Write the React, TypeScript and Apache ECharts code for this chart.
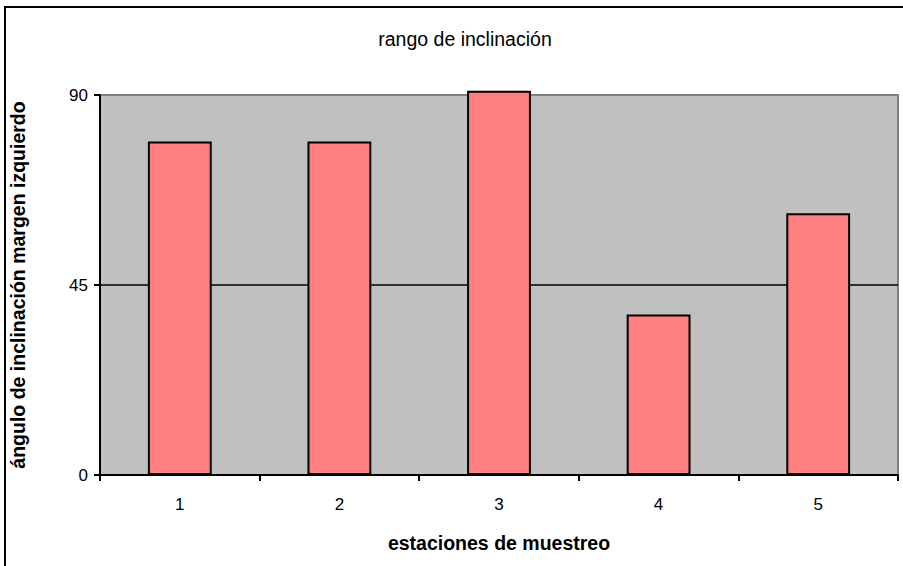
import React, { useEffect, useRef } from "react";
import * as echarts from "echarts";

const categories = ["1", "2", "3", "4", "5"];
const inclinacion = [79, 79, 91, 38, 62];
const yTicks = [0, 45, 90];

const FONT = "'Liberation Sans', Arial, sans-serif";

export default function App() {
  const ref = useRef<HTMLDivElement>(null);

  useEffect(() => {
    if (!ref.current) return;
    const chart = echarts.init(ref.current, undefined, { renderer: "svg" });
    chart.setOption({
      animation: false,
      backgroundColor: "#ffffff",
      textStyle: { fontFamily: FONT },
      graphic: [
        {
          type: "rect",
          shape: { x: 5, y: 7, width: 1000, height: 1000 },
          style: { fill: "none", stroke: "#000000", lineWidth: 2 },
          silent: true,
        },
        {
          type: "text",
          x: 465,
          y: 39,
          style: {
            text: "rango de inclinación",
            align: "center",
            verticalAlign: "middle",
            fontFamily: FONT,
            fontSize: 19.5,
            fill: "#000000",
          },
        },
      ],
      grid: {
        left: 98,
        top: 95,
        right: 5,
        bottom: 91,
        show: true,
        backgroundColor: "#c0c0c0",
        borderColor: "#808080",
        borderWidth: 2,
      },
      xAxis: {
        type: "category",
        data: categories,
        boundaryGap: true,
        name: "estaciones de muestreo",
        nameLocation: "middle",
        nameGap: 58,
        nameTextStyle: { fontFamily: FONT, fontSize: 19.5, fontWeight: "bold", color: "#000000" },
        axisLine: { show: true, lineStyle: { color: "#000", width: 2 } },
        axisTick: { show: true, inside: false, length: 6, alignWithLabel: false, lineStyle: { color: "#000", width: 2 } },
        axisLabel: { fontFamily: FONT, fontSize: 17, color: "#000", margin: 21 },
        splitLine: { show: false },
      },
      yAxis: {
        type: "value",
        min: yTicks[0],
        max: yTicks[yTicks.length - 1],
        interval: yTicks[1] - yTicks[0],
        name: "ángulo de inclinación margen izquierdo",
        nameLocation: "middle",
        nameGap: 72,
        nameTextStyle: { fontFamily: FONT, fontSize: 19.5, fontWeight: "bold", color: "#000000" },
        axisLine: { show: true, lineStyle: { color: "#000", width: 2 } },
        axisTick: { show: true, inside: false, length: 6, lineStyle: { color: "#000", width: 2 } },
        axisLabel: { fontFamily: FONT, fontSize: 17, color: "#000", margin: 12 },
        splitLine: { show: true, lineStyle: { color: ["#000000", "#000000", "#808080"], width: 1.5 } },
      },
      series: [
        {
          type: "bar",
          data: inclinacion,
          barWidth: "40%",
          clip: false,
          itemStyle: { color: "#ff8080", borderColor: "#000000", borderWidth: 2 },
        },
      ],
    });
    return () => chart.dispose();
  }, []);

  return (
    <div
      ref={ref}
      style={{ position: "fixed", left: 0, top: 0, width: 903, height: 566 }}
    />
  );
}
